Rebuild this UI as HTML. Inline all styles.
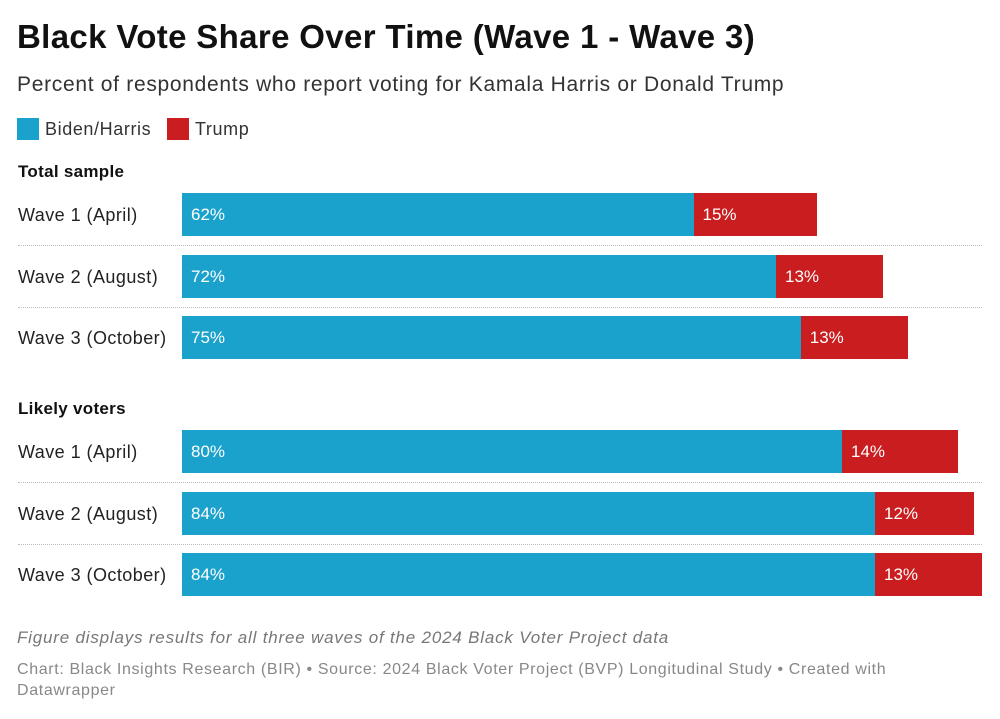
<!DOCTYPE html>
<html><head><meta charset="utf-8"><style>
body{margin:0;width:1000px;height:719px;background:#fff;font-family:"Liberation Sans",sans-serif;color:#222;position:relative;overflow:hidden}
.t{position:absolute;white-space:nowrap}
</style></head><body>
<div class="t" style="left:17px;top:18px;font-size:33px;font-weight:bold;color:#111;letter-spacing:0.35px">Black Vote Share Over Time (Wave 1 - Wave 3)</div>
<div class="t" style="left:17px;top:73px;font-size:21px;color:#333;letter-spacing:0.7px">Percent of respondents who report voting for Kamala Harris or Donald Trump</div>
<div class="t" style="left:17px;top:118px;font-size:18px;color:#333;letter-spacing:0.6px"><span style="display:inline-block;width:22px;height:22px;background:#1aa1cc;vertical-align:-5px;margin-right:6px"></span>Biden/Harris</div>
<div class="t" style="left:167px;top:118px;font-size:18px;color:#333;letter-spacing:0.6px"><span style="display:inline-block;width:22px;height:22px;background:#c91d1f;vertical-align:-5px;margin-right:6px"></span>Trump</div>
<div id="chart"></div>
<div class="t" style="left:17px;top:628px;font-size:17px;font-style:italic;color:#777;letter-spacing:0.8px">Figure displays results for all three waves of the 2024 Black Voter Project data</div>
<div class="t" style="left:17px;top:659px;font-size:16px;color:#888;line-height:21px;letter-spacing:0.64px">Chart: Black Insights Research (BIR) • Source: 2024 Black Voter Project (BVP) Longitudinal Study • Created with<br>Datawrapper</div>
<script>
const groups=["Total sample","Likely voters"];
const categories=["Wave 1 (April)","Wave 2 (August)","Wave 3 (October)"];
const harrisValues=[[62,72,75],[80,84,84]];
const trumpValues=[[15,13,13],[14,12,13]];
const X0=182,PX=8.25;
function x(v){return X0+v*PX;}
const c=document.getElementById('chart');
function mk(style,text){const d=document.createElement('div');d.className='t';d.style.cssText=style;if(text!=null)d.textContent=text;c.appendChild(d);return d;}
const groupTop=[162,399];
groups.forEach((g,gi)=>{
  const h=mk(`left:18px;top:${groupTop[gi]}px;font-size:17px;font-weight:bold;color:#111;letter-spacing:0.3px`,g);
  
  
  categories.forEach((cat,i)=>{
    const y=groupTop[gi]+31+i*61.5;
    const l=mk(`left:18px;top:${y+12}px;font-size:18px;color:#222;letter-spacing:0.45px`,cat);
    
    
    const hv=harrisValues[gi][i],tv=trumpValues[gi][i];
    const b=mk(`left:${X0}px;top:${y}px;width:${x(hv)-X0}px;height:43px;background:#1aa1cc;color:#fff;font-size:17px;line-height:43px;text-indent:9px`,hv+'%');
    
    
    const r=mk(`left:${x(hv)}px;top:${y}px;width:${tv*PX}px;height:43px;background:#c91d1f;color:#fff;font-size:17px;line-height:43px;text-indent:9px`,tv+'%');
    
    
    if(i<2){const s=mk(`left:18px;top:${y+52}px;width:964px;border-top:1px dotted #bbb`);
      
      }
  });
});
</script>
</body></html>
